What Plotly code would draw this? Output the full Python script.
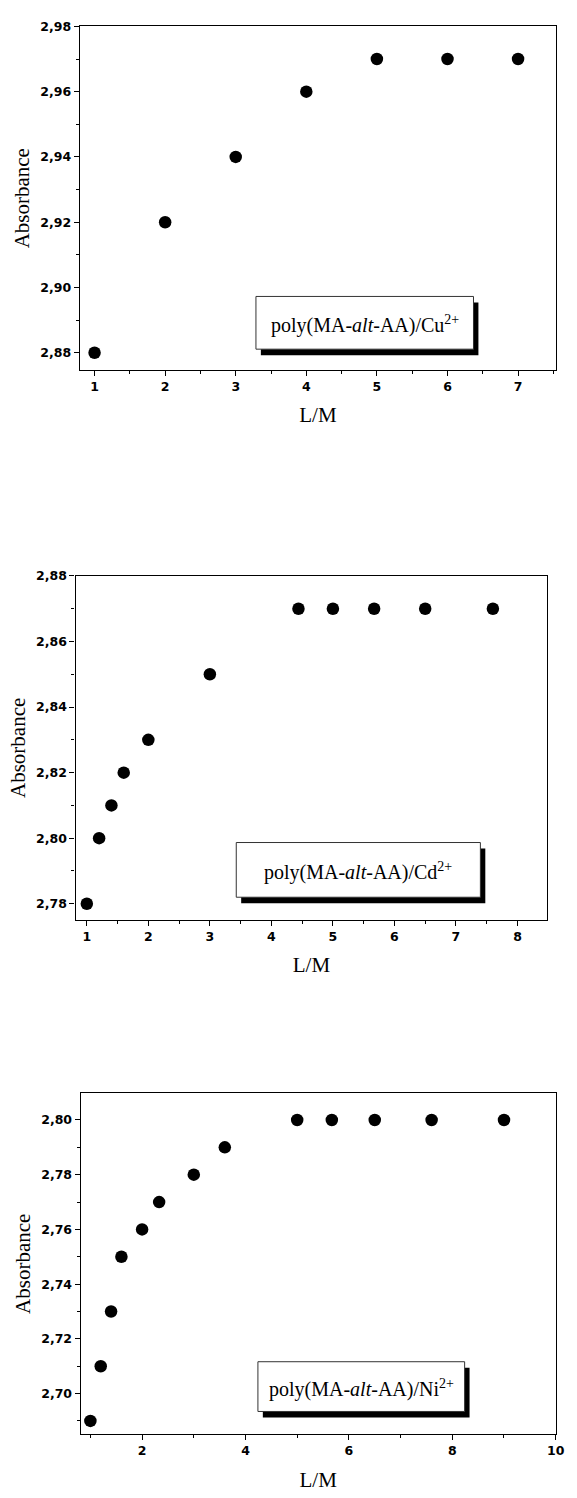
import plotly.graph_objects as go

W, H = 577, 1498

# L/M ratio and absorbance for each metal ion complex
cu_lm = [1, 2, 3, 4, 5, 6, 7]
cu_abs = [2.88, 2.92, 2.94, 2.96, 2.97, 2.97, 2.97]

cd_lm = [1, 1.2, 1.4, 1.6, 2, 3, 4.44, 5, 5.67, 6.5, 7.6]
cd_abs = [2.78, 2.80, 2.81, 2.82, 2.83, 2.85, 2.87, 2.87, 2.87, 2.87, 2.87]

ni_lm = [1, 1.2, 1.4, 1.6, 2, 2.33, 3, 3.6, 5, 5.67, 6.5, 7.6, 9]
ni_abs = [2.69, 2.71, 2.73, 2.75, 2.76, 2.77, 2.78, 2.79, 2.80, 2.80, 2.80, 2.80, 2.80]

labels = [
    "poly(MA-<i>alt</i>-AA)/Cu<sup>2+</sup>",
    "poly(MA-<i>alt</i>-AA)/Cd<sup>2+</sup>",
    "poly(MA-<i>alt</i>-AA)/Ni<sup>2+</sup>",
]


def fx(p):
    return p / W


def fy(p):
    return 1 - p / H


# panel frames in pixels: left, top, right, bottom
frames = [(81, 18.5, 565, 364), (76.7, 571, 556, 916.7), (82, 1091, 564.5, 1434)]
xranges = [[0.79, 7.54], [0.816, 8.485], [0.813, 10.0]]
yranges = [[2.8747, 2.98], [2.7751, 2.88], [2.6851, 2.8098]]
xdt = [(1, 0.5), (1, 0.5), (2, 1)]
# legend boxes in pixels: left, top, right, bottom
boxes = [(260, 290, 481, 343), (240, 839, 488, 894), (262, 1361, 472, 1411)]

series = [(cu_lm, cu_abs), (cd_lm, cd_abs), (ni_lm, ni_abs)]

fig = go.Figure()
tickfont = dict(family="DejaVu Sans", size=12.5, color="black", weight="bold")
titlefont = dict(family="Liberation Serif", size=21, color="black")

shapes = []
annotations = []
for i, ((xs, ys), (l, t, r, b)) in enumerate(zip(series, frames)):
    n = "" if i == 0 else str(i + 1)
    fig.add_trace(go.Scatter(
        x=xs, y=ys, mode="markers", xaxis="x" + n, yaxis="y" + n,
        marker=dict(size=12.5, color="black", line=dict(width=0)),
        showlegend=False,
    ))
    common = dict(
        showline=True, linecolor="black", linewidth=1.3, mirror=True,
        ticks="outside", ticklen=5, tickwidth=1.2, tickcolor="black",
        showgrid=False, zeroline=False, tickfont=tickfont,
    )
    fig.layout["xaxis" + n] = dict(
        common, domain=[fx(l), fx(r)], range=xranges[i], anchor="y" + n,
        tick0=0, dtick=xdt[i][0],
        minor=dict(ticks="outside", ticklen=3, tickwidth=1, tickcolor="black",
                   dtick=xdt[i][1], tick0=0, showgrid=False),
        title=dict(text="L/M", font=titlefont, standoff=14),
    )
    fig.layout["yaxis" + n] = dict(
        common, domain=[fy(b), fy(t)], range=yranges[i], anchor="x" + n,
        tick0=0, dtick=0.02, tickformat=".2f",
        minor=dict(ticks="outside", ticklen=3, tickwidth=1, tickcolor="black",
                   dtick=0.01, tick0=0, showgrid=False),
        title=dict(text="Absorbance", font=titlefont, standoff=4),
    )

    bl, bt, br, bb = boxes[i]
    shapes.append(dict(type="rect", xref="paper", yref="paper",
                       x0=fx(bl + 5), x1=fx(br + 5), y0=fy(bb + 6), y1=fy(bt + 6),
                       fillcolor="black", line=dict(width=0)))
    shapes.append(dict(type="rect", xref="paper", yref="paper",
                       x0=fx(bl), x1=fx(br), y0=fy(bb), y1=fy(bt),
                       fillcolor="white", line=dict(color="#333333", width=1)))
    annotations.append(dict(
        text=labels[i], xref="paper", yref="paper",
        x=fx((bl + br) / 2), y=fy((bt + bb) / 2 + 2),
        xanchor="center", yanchor="middle", showarrow=False,
        font=dict(family="Liberation Serif", size=20, color="black"),
    ))

fig.update_layout(
    width=W, height=H,
    margin=dict(l=0, r=0, t=0, b=0),
    paper_bgcolor="white", plot_bgcolor="white",
    separators=",.",
    shapes=shapes, annotations=annotations,
)

fig.write_html("out.html")
